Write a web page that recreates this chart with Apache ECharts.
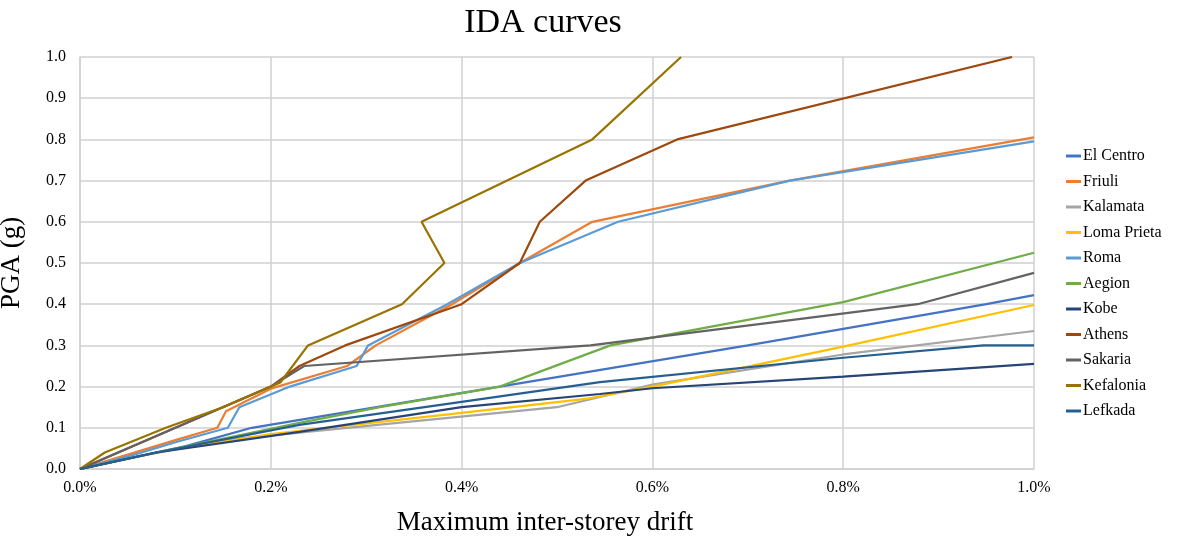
<!DOCTYPE html>
<html><head><meta charset="utf-8">
<script src="https://cdn.jsdelivr.net/npm/echarts@6/dist/echarts.min.js"></script>
<style>html,body{margin:0;padding:0;background:#fff}#c{width:1185px;height:539px}</style>
</head><body><div id="c"></div>
<script>
// x: maximum inter-storey drift (%), y: PGA (g)
const seriesNames = ["El Centro","Friuli","Kalamata","Loma Prieta","Roma","Aegion","Kobe","Athens","Sakaria","Kefalonia","Lefkada"];
const colors = ["#4472C4","#ED7D31","#A5A5A5","#FFC000","#5B9BD5","#70AD47","#264478","#9E480E","#636363","#997300","#255E91"];
const elCentro  = [[0,0],[0.05,0.025],[0.11,0.055],[0.18,0.1],[0.44,0.2],[0.70,0.3],[0.95,0.4],[1.0,0.422]];
const friuli    = [[0,0],[0.05,0.035],[0.1,0.07],[0.144,0.1],[0.153,0.14],[0.2,0.195],[0.28,0.25],[0.31,0.3],[0.39,0.4],[0.461,0.5],[0.537,0.6],[0.744,0.7],[1.0,0.805]];
const kalamata  = [[0,0],[0.06,0.03],[0.15,0.07],[0.28,0.1],[0.5,0.15],[0.6,0.205],[0.8,0.278],[1.0,0.335]];
const lomaPrieta= [[0,0],[0.08,0.04],[0.2,0.085],[0.4,0.136],[0.53,0.17],[0.6,0.2],[0.8,0.297],[1.0,0.398]];
const roma      = [[0,0],[0.05,0.03],[0.1,0.065],[0.155,0.1],[0.167,0.15],[0.22,0.2],[0.29,0.25],[0.302,0.3],[0.385,0.4],[0.461,0.5],[0.564,0.6],[0.744,0.7],[1.0,0.795]];
const aegion    = [[0,0],[0.08,0.04],[0.23,0.112],[0.3145,0.15],[0.44,0.2],[0.556,0.3],[0.8,0.405],[1.0,0.525]];
const kobe      = [[0,0],[0.08,0.04],[0.23,0.09],[0.4,0.15],[0.545,0.182],[0.6,0.196],[0.8,0.224],[1.0,0.255]];
const athens    = [[0,0],[0.1,0.1],[0.2,0.2],[0.23,0.25],[0.278,0.3],[0.4,0.4],[0.461,0.5],[0.482,0.6],[0.53,0.7],[0.626,0.8],[0.977,1.0]];
const sakaria   = [[0,0],[0.1,0.1],[0.2,0.2],[0.235,0.25],[0.535,0.3],[0.878,0.4],[1.0,0.476]];
const kefalonia = [[0,0],[0.026,0.04],[0.09,0.1],[0.15,0.15],[0.21,0.21],[0.239,0.3],[0.3375,0.4],[0.382,0.5],[0.358,0.6],[0.537,0.8],[0.63,1.0]];
const lefkada   = [[0,0],[0.08,0.04],[0.23,0.107],[0.4,0.163],[0.545,0.211],[0.8,0.27],[0.947,0.3],[1.0,0.3]];
const allData = [elCentro,friuli,kalamata,lomaPrieta,roma,aegion,kobe,athens,sakaria,kefalonia,lefkada];
const xTicks = {min:0,max:1.0,interval:0.2};
const yTicks = {min:0,max:1.0,interval:0.1};

const font = "Liberation Serif";
const chart = echarts.init(document.getElementById('c'));
chart.setOption({
  animation:false,
  color: colors,
  title:{text:"IDA curves",left:538,top:1,textAlign:'center',
    textStyle:{fontFamily:font,fontSize:34,fontWeight:'normal',color:'#000'}},
  grid:{left:80,right:151,top:57,bottom:70,containLabel:false,outerBoundsMode:'none'},
  legend:{orient:'vertical',left:1061,top:143,itemGap:9.5,itemWidth:15,itemHeight:3,icon:'rect',
    textStyle:{fontFamily:font,fontSize:16,color:'#000',padding:[0,0,0,-3]},
    data:seriesNames},
  xAxis:{type:'value',min:xTicks.min,max:xTicks.max,interval:xTicks.interval,
    name:"Maximum inter-storey drift",nameLocation:'middle',nameGap:40,
    nameTextStyle:{fontFamily:font,fontSize:27,color:'#000',padding:[0,24,0,0]},
    axisLine:{show:true,lineStyle:{color:'#d0d0d0',width:1.5}},axisTick:{show:false},
    axisLabel:{fontFamily:font,fontSize:16,color:'#000',margin:11,formatter:v=>v.toFixed(1)+'%'},
    splitLine:{show:true,lineStyle:{color:'#d0d0d0',width:1.5}}},
  yAxis:{type:'value',min:yTicks.min,max:yTicks.max,interval:yTicks.interval,
    name:"PGA (g)",nameLocation:'middle',nameGap:55,
    nameTextStyle:{fontFamily:font,fontSize:27,color:'#000'},
    axisLine:{show:true,lineStyle:{color:'#d0d0d0',width:1.5}},axisTick:{show:false},
    axisLabel:{fontFamily:font,fontSize:16,color:'#000',margin:14,formatter:v=>v.toFixed(1)},
    splitLine:{show:true,lineStyle:{color:'#d0d0d0',width:1.5}}},
  series: seriesNames.map((n,i)=>({name:n,type:'line',data:allData[i],showSymbol:false,symbol:'none',
    lineStyle:{width:2.2,color:colors[i]},itemStyle:{color:colors[i]},clip:true}))
});
</script></body></html>
